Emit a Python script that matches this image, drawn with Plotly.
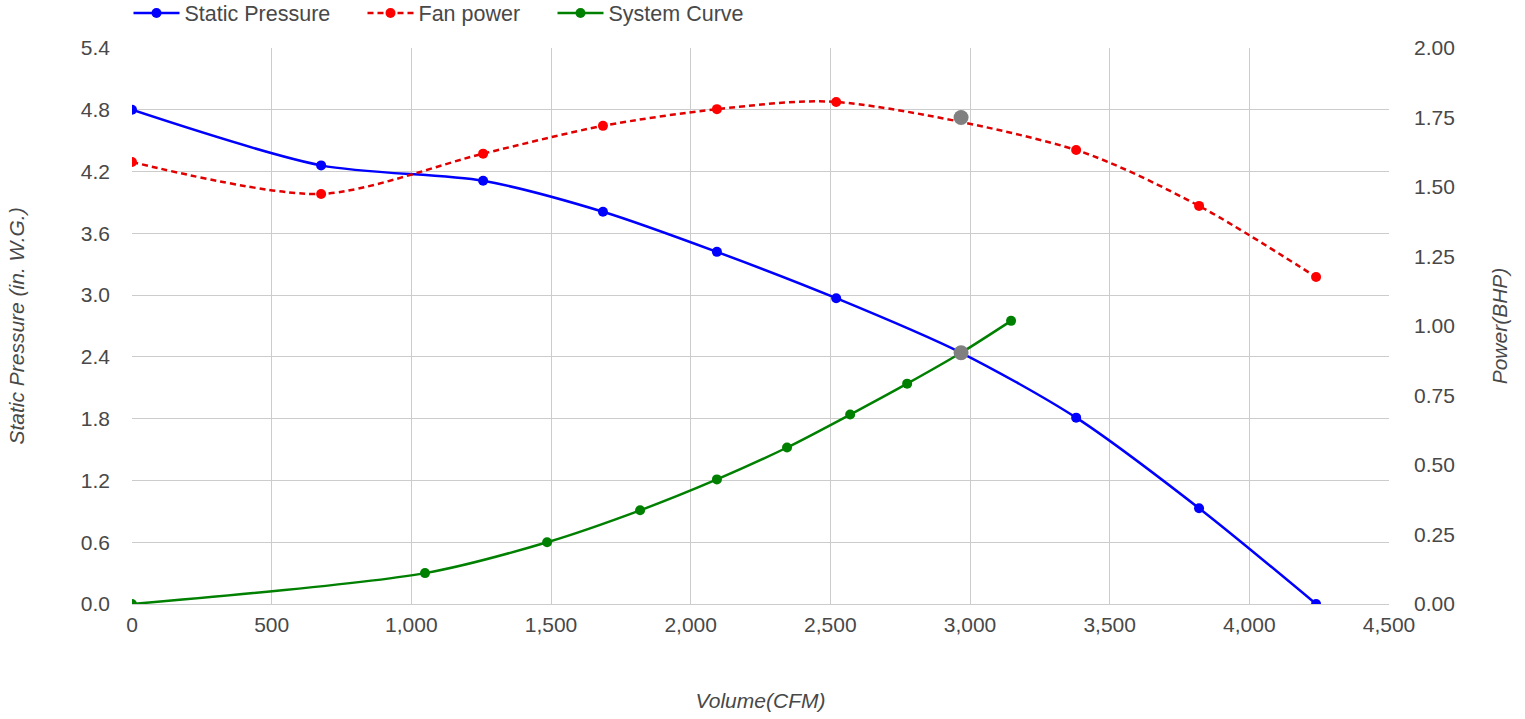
import plotly.graph_objects as go

# Data
sp_x = [0, 677, 1257, 1686, 2094, 2521, 2968, 3380, 3820, 4239]
sp_y = [4.80, 4.26, 4.11, 3.81, 3.42, 2.97, 2.44, 1.81, 0.93, 0.0]

fp_x = [0, 677, 1257, 1686, 2094, 2521, 3380, 3820, 4239]
fp_y = [1.59, 1.475, 1.62, 1.72, 1.78, 1.806, 1.633, 1.432, 1.176]

sc_x = [0, 1049, 1486, 1819, 2094, 2345, 2571, 2775, 2968, 3147]
sc_y = [0.0, 0.30, 0.60, 0.91, 1.21, 1.52, 1.84, 2.14, 2.44, 2.75]

op_x = [2968]
op_sp = [2.44]
op_power = [1.75]

x_ticks = [0, 500, 1000, 1500, 2000, 2500, 3000, 3500, 4000, 4500]
y_ticks = [0.0, 0.6, 1.2, 1.8, 2.4, 3.0, 3.6, 4.2, 4.8, 5.4]
y2_ticks = [0.0, 0.25, 0.5, 0.75, 1.0, 1.25, 1.5, 1.75, 2.0]

FONT = "Liberation Sans, Arial, sans-serif"
TXT = "#484848"
FS = 21

fig = go.Figure()
fig.add_trace(go.Scatter(x=sp_x, y=sp_y, name="Static Pressure", mode="lines+markers", legend="legend",
                         line=dict(color="#0000ff", width=2.5, shape="spline", smoothing=0.8),
                         marker=dict(color="#0000ff", size=10)))
fig.add_trace(go.Scatter(x=fp_x, y=fp_y, name="Fan power", mode="lines+markers", yaxis="y2", legend="legend2",
                         line=dict(color="#e00000", width=2.5, dash="6px,4px", shape="spline", smoothing=0.8),
                         marker=dict(color="#ff0000", size=10)))
fig.add_trace(go.Scatter(x=sc_x, y=sc_y, name="System Curve", mode="lines+markers", legend="legend3",
                         line=dict(color="#008000", width=2.5, shape="spline", smoothing=0.8),
                         marker=dict(color="#008000", size=10)))
fig.add_trace(go.Scatter(x=op_x, y=op_sp, mode="markers", showlegend=False,
                         marker=dict(color="#808080", size=15)))
fig.add_trace(go.Scatter(x=op_x, y=op_power, mode="markers", showlegend=False, yaxis="y2",
                         marker=dict(color="#808080", size=15)))

PL, PW = 132, 1257


def leg(px):
    return dict(orientation="h", x=(px - 5.5 - PL) / PW, xanchor="left",
                yref="container", y=1 - 13 / 719, yanchor="middle",
                itemwidth=46, font=dict(size=21.5, color=TXT), bgcolor="rgba(0,0,0,0)")


fig.update_layout(
    width=1525, height=719,
    margin=dict(l=132, r=136, t=48, b=115, autoexpand=False),
    paper_bgcolor="white", plot_bgcolor="white",
    font=dict(family=FONT, size=FS, color=TXT),
    legend=leg(134), legend2=leg(368), legend3=leg(558),
    xaxis=dict(range=[0, 4500], tickvals=x_ticks, tickformat=",", showgrid=True, automargin=False,
               gridcolor="#cccccc", gridwidth=1, zeroline=False, showline=True, linecolor="#cccccc",
               ticks="", ticklabelstandoff=2, tickfont=dict(size=FS, color=TXT),
               title=dict(text="<i>Volume(CFM)</i>", font=dict(size=FS, color=TXT), standoff=58)),
    yaxis=dict(range=[0, 5.4], tickvals=y_ticks, tickformat=".1f", showgrid=True, automargin=False,
               gridcolor="#cccccc", gridwidth=1, zeroline=False, ticks="", ticklabelstandoff=21,
               tickfont=dict(size=FS, color=TXT),
               title=dict(text="<i>Static Pressure (in. W.G.)</i>", font=dict(size=FS, color=TXT), standoff=50)),
    yaxis2=dict(range=[0, 2.0], tickvals=y2_ticks, tickformat=".2f", overlaying="y", side="right",
                automargin=False, showgrid=False, zeroline=False, ticks="", ticklabelstandoff=24,
                tickfont=dict(size=FS, color=TXT),
                title=dict(text="<i>Power(BHP)</i>", font=dict(size=FS, color=TXT), standoff=38)),
)

fig.write_html("out.html", config={"displayModeBar": False},
               post_script="document.body.style.margin='0px';")
